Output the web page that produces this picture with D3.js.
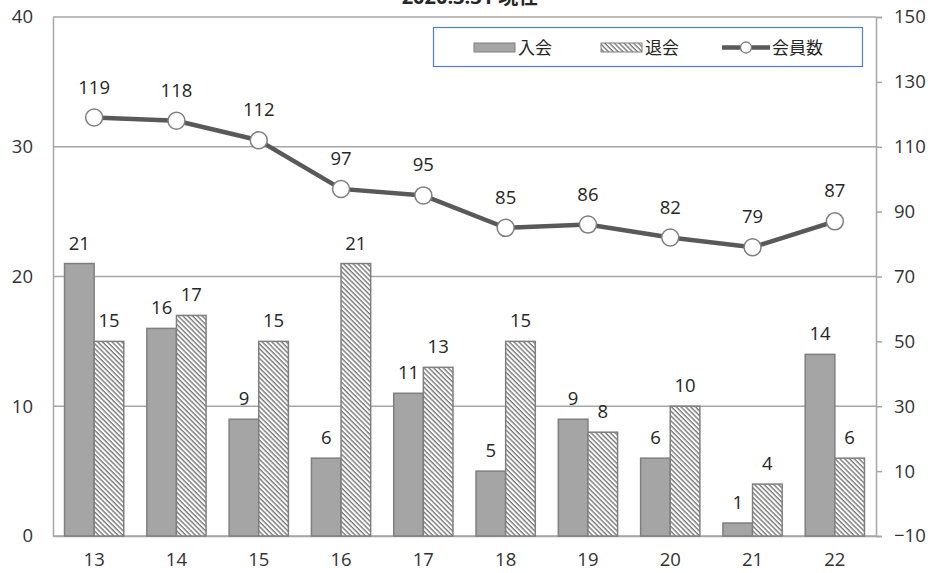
<!DOCTYPE html>
<html>
<head>
<meta charset="utf-8">
<script src="https://cdn.jsdelivr.net/npm/d3@7/dist/d3.min.js"></script>
<style>
  html, body { margin: 0; padding: 0; background: #fff; }
  svg { display: block; }
  text { font-family: "Open Sans", "Noto Sans CJK JP", sans-serif; fill: #262626; }
</style>
</head>
<body>
<svg id="chart" width="931" height="573"></svg>
<script>
// Membership trend: joins / leaves per term (left axis) and total members (right axis)
const categories = ["13", "14", "15", "16", "17", "18", "19", "20", "21", "22"];
const joined = [21, 16, 9, 6, 11, 5, 9, 6, 1, 14];
const left = [15, 17, 15, 21, 13, 15, 8, 10, 4, 6];
const members = [119, 118, 112, 97, 95, 85, 86, 82, 79, 87];
const leftTicks = [0, 10, 20, 30, 40];
const rightTicks = [-10, 10, 30, 50, 70, 90, 110, 130, 150];
const seriesNames = ["入会", "退会", "会員数"];
const titleText = "2020.3.31 現在";

const svg = d3.select("#chart");
const plot = { left: 53, right: 876, top: 17, bottom: 536 };
const numSize = 18.5;

const x0 = d3.scaleBand().domain(categories)
  .range([plot.left, plot.right]).paddingInner(0.28).paddingOuter(0.14);
const x1 = d3.scaleBand().domain(seriesNames.slice(0, 2)).range([0, x0.bandwidth()]);
const yL = d3.scaleLinear().domain([0, 40]).range([plot.bottom, plot.top]);
const yR = d3.scaleLinear().domain([-10, 150]).range([plot.bottom, plot.top]);

// hatch pattern for the leaves series
const defs = svg.append("defs");
const pat = defs.append("pattern").attr("id", "hatch")
  .attr("patternUnits", "userSpaceOnUse").attr("width", 3.4).attr("height", 3.4)
  .attr("patternTransform", "rotate(45)");
pat.append("rect").attr("width", 3.4).attr("height", 3.4).attr("fill", "#fff");
pat.append("line").attr("x1", 0).attr("y1", 0.7).attr("x2", 3.4).attr("y2", 0.7)
  .attr("stroke", "#707070").attr("stroke-width", 1.3);

// title (sits above the plot edge)
svg.append("text").attr("x", 470).attr("y", 4).attr("text-anchor", "middle")
  .attr("font-family", "Noto Sans CJK JP")
  .attr("font-size", 20).attr("font-weight", "bold").text(titleText);

// gridlines
const gridColor = "#a6a6a6";
svg.append("g").selectAll("line").data(leftTicks).join("line")
  .attr("x1", plot.left).attr("x2", plot.right)
  .attr("y1", d => yL(d)).attr("y2", d => yL(d))
  .attr("stroke", gridColor).attr("stroke-width", 1.5);

// left axis
const axL = svg.append("g").attr("transform", `translate(${plot.left},0)`)
  .call(d3.axisLeft(yL).tickValues(leftTicks).tickSize(0).tickPadding(20));
axL.select(".domain").attr("stroke", gridColor).attr("stroke-width", 1.5);
axL.selectAll("text").attr("font-size", numSize).style("fill", "#333");

// right axis
const axR = svg.append("g").attr("transform", `translate(${plot.right},0)`)
  .call(d3.axisRight(yR).tickValues(rightTicks).tickSize(6).tickPadding(12));
axR.select(".domain").attr("stroke", gridColor).attr("stroke-width", 1.5);
axR.selectAll(".tick line").attr("stroke", gridColor).attr("stroke-width", 1.5);
axR.selectAll("text").attr("font-size", numSize).style("fill", "#333");

// bottom axis labels
const axB = svg.append("g").attr("transform", `translate(0,${plot.bottom})`)
  .call(d3.axisBottom(x0).tickSize(0).tickPadding(17));
axB.select(".domain").attr("stroke", gridColor).attr("stroke-width", 1.5);
axB.selectAll("text").attr("font-size", numSize).style("fill", "#333");

// bars
const rows = categories.map((c, i) => ({ c, vals: [
  { key: seriesNames[0], v: joined[i] },
  { key: seriesNames[1], v: left[i] }
]}));
const groups = svg.append("g").selectAll("g").data(rows).join("g")
  .attr("transform", d => `translate(${x0(d.c)},0)`);
groups.selectAll("rect").data(d => d.vals).join("rect")
  .attr("x", d => x1(d.key)).attr("width", x1.bandwidth())
  .attr("y", d => yL(d.v)).attr("height", d => yL(0) - yL(d.v))
  .attr("fill", d => d.key === seriesNames[0] ? "#a5a5a5" : "url(#hatch)")
  .attr("stroke", "#7f7f7f").attr("stroke-width", 1.5);
groups.selectAll("text").data(d => d.vals).join("text")
  .attr("x", d => x1(d.key) + x1.bandwidth() / 2)
  .attr("y", d => yL(d.v) - 14)
  .attr("text-anchor", "middle").attr("font-size", numSize).text(d => d.v);

// member line
const cx = c => x0(c) + x0.bandwidth() / 2;
const pts = categories.map((c, i) => ({ c, v: members[i] }));
svg.append("path").datum(pts)
  .attr("d", d3.line().x(d => cx(d.c)).y(d => yR(d.v)))
  .attr("fill", "none").attr("stroke", "#595959").attr("stroke-width", 4.5);
svg.append("g").selectAll("circle").data(pts).join("circle")
  .attr("cx", d => cx(d.c)).attr("cy", d => yR(d.v)).attr("r", 8.5)
  .attr("fill", "#fff").attr("stroke", "#7f7f7f").attr("stroke-width", 1.5);
svg.append("g").selectAll("text").data(pts).join("text")
  .attr("x", d => cx(d.c)).attr("y", d => yR(d.v) - 24)
  .attr("text-anchor", "middle").attr("font-size", numSize).text(d => d.v);

// legend
const lg = svg.append("g");
lg.append("rect").attr("x", 433.5).attr("y", 27.5).attr("width", 429).attr("height", 39)
  .attr("fill", "#fff").attr("stroke", "#4f7fc4").attr("stroke-width", 1.2);
lg.append("rect").attr("x", 474).attr("y", 43).attr("width", 41).attr("height", 9)
  .attr("fill", "#a5a5a5").attr("stroke", "#7f7f7f").attr("stroke-width", 1);
lg.append("text").attr("x", 518).attr("y", 54).attr("font-size", 17)
  .attr("font-family", "Noto Sans CJK JP").text(seriesNames[0]);
lg.append("rect").attr("x", 601).attr("y", 43).attr("width", 41).attr("height", 9)
  .attr("fill", "url(#hatch)").attr("stroke", "#7f7f7f").attr("stroke-width", 1);
lg.append("text").attr("x", 645).attr("y", 54).attr("font-size", 17)
  .attr("font-family", "Noto Sans CJK JP").text(seriesNames[1]);
lg.append("line").attr("x1", 722).attr("x2", 770).attr("y1", 47.5).attr("y2", 47.5)
  .attr("stroke", "#595959").attr("stroke-width", 4.5);
lg.append("circle").attr("cx", 746).attr("cy", 47.5).attr("r", 5.5)
  .attr("fill", "#fff").attr("stroke", "#7f7f7f").attr("stroke-width", 1.3);
lg.append("text").attr("x", 772).attr("y", 54).attr("font-size", 17)
  .attr("font-family", "Noto Sans CJK JP").text(seriesNames[2]);
</script>
</body>
</html>
